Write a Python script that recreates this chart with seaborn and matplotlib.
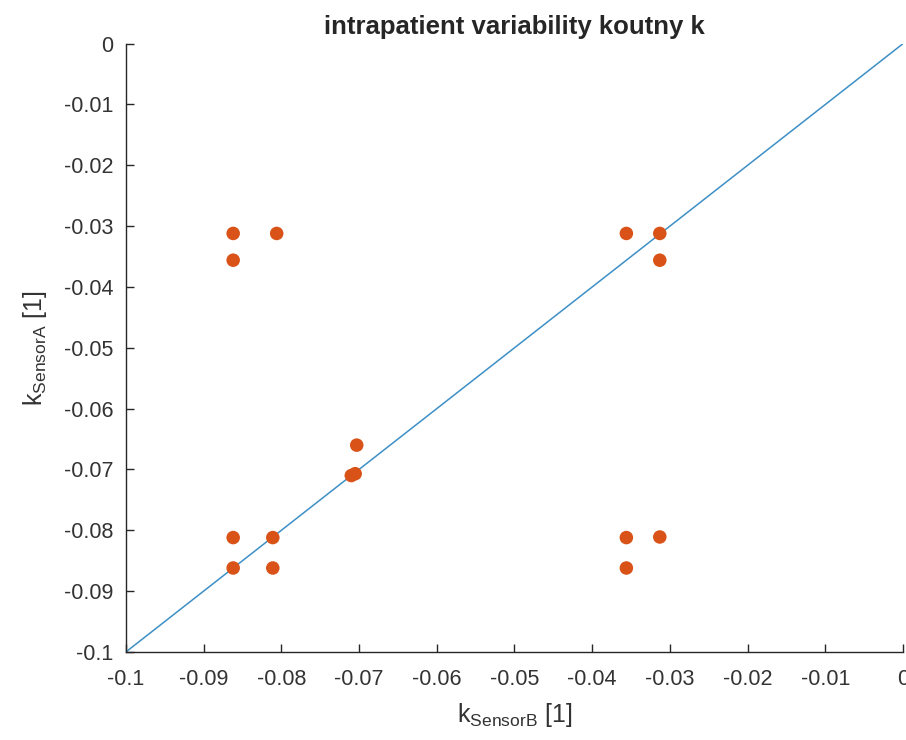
import numpy as np
import pandas as pd
import matplotlib
matplotlib.use('Agg')
import matplotlib.pyplot as plt
import seaborn as sns

# values
k_sensorB = [-0.0862, -0.0806, -0.0862, -0.0356, -0.0313, -0.0313,
             -0.0703, -0.0710, -0.0705,
             -0.0862, -0.0811, -0.0862, -0.0811, -0.0356, -0.0313, -0.0356]
k_sensorA = [-0.0312, -0.0312, -0.0356, -0.0312, -0.0312, -0.0356,
             -0.0660, -0.0710, -0.0707,
             -0.0812, -0.0812, -0.0862, -0.0862, -0.0812, -0.0811, -0.0862]
ident_x = [-0.1, 0.0]
ident_y = [-0.1, 0.0]
ticks = [-0.1, -0.09, -0.08, -0.07, -0.06, -0.05, -0.04, -0.03, -0.02, -0.01, 0]
tick_labels = ['-0.1', '-0.09', '-0.08', '-0.07', '-0.06', '-0.05',
               '-0.04', '-0.03', '-0.02', '-0.01', '0']

df = pd.DataFrame({'B': k_sensorB, 'A': k_sensorA})
line_df = pd.DataFrame({'x': ident_x, 'y': ident_y})

sns.set_style('ticks')
plt.rcParams['font.family'] = ['Liberation Sans', 'DejaVu Sans']

fig = plt.figure(figsize=(9.06, 7.4), dpi=100)
ax = fig.add_axes([0.139, 0.119, 0.8577, 0.822])

sns.lineplot(data=line_df, x='x', y='y', color='#3d8fc6', linewidth=1.1, ax=ax)
sns.scatterplot(data=df, x='B', y='A', color='#d95319', s=95, edgecolor='none', ax=ax, zorder=3)

ax.set_xlim(-0.1, 0)
ax.set_ylim(-0.1, 0)
ax.set_xticks(ticks)
ax.set_xticklabels(tick_labels)
ax.set_yticks(ticks)
ax.set_yticklabels(tick_labels)
ax.tick_params(direction='in', length=6, width=1, colors='#262626', labelsize=15.5)
ax.tick_params(axis='x', pad=12)
ax.tick_params(axis='y', pad=9)
for t in ax.get_xticklabels() + ax.get_yticklabels():
    t.set_color('#333333')

sns.despine(ax=ax)
for sp in ['left', 'bottom']:
    ax.spines[sp].set_color('#262626')
    ax.spines[sp].set_linewidth(1)

ax.set_xlabel(r'$\mathregular{k_{SensorB}}$ [1]', fontsize=18, color='#333333', labelpad=8)
ax.set_ylabel(r'$\mathregular{k_{SensorA}}$ [1]', fontsize=18, color='#333333', labelpad=11)
ax.set_title('intrapatient variability koutny k', fontsize=18.5, fontweight='bold', pad=7)

fig.savefig('out.png', dpi=100)
